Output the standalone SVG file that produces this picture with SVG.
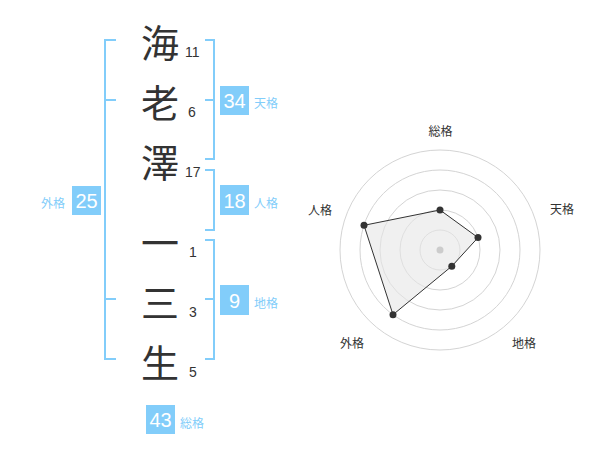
<svg xmlns="http://www.w3.org/2000/svg" width="600" height="470" viewBox="0 0 600 470">
<style>
.ch{font-family:"Noto Sans CJK JP","Noto Sans",sans-serif;font-size:38px;fill:#333;text-anchor:middle;dominant-baseline:central}
.num{font-family:"Liberation Sans",Arial,sans-serif;font-size:14px;fill:#333}
.br{fill:none;stroke:#82cdfa;stroke-width:2}
.box{fill:#82cdfa}
.bn{font-family:"Liberation Sans",Arial,sans-serif;font-size:20px;fill:#fff;text-anchor:middle;dominant-baseline:central}
.lb{font-family:"Noto Sans CJK JP",sans-serif;font-size:12px;fill:#82cdfa;dominant-baseline:central}
.rl{font-family:"Noto Sans CJK JP",sans-serif;font-size:12px;fill:#333;text-anchor:middle;dominant-baseline:central}
.ring{fill:none;stroke:#d4d4d4;stroke-width:1}
.pt{fill:#333}
</style>
<rect width="600" height="470" fill="#fff"/>
<g id="chars">
<text class="ch" x="160" y="40">海</text>
<text class="ch" x="160" y="100">老</text>
<text class="ch" x="160" y="160">澤</text>
<text class="ch" x="160" y="240">一</text>
<text class="ch" x="160" y="300">三</text>
<text class="ch" x="160" y="360">生</text>
<text class="num" x="185" y="57">11</text>
<text class="num" x="188" y="117">6</text>
<text class="num" x="185" y="177">17</text>
<text class="num" x="189" y="257">1</text>
<text class="num" x="189" y="317">3</text>
<text class="num" x="189" y="377">5</text>
</g>
<g id="connectors">
<path class="br" d="M116,40 H105 V359 H116 M105,100 H116 M105,299 H116"/>
<path class="br" d="M205,40 H214 V159 H205 M214,100 H205"/>
<path class="br" d="M205,170 H214 V230 H205"/>
<path class="br" d="M205,240 H214 V359 H205 M214,299 H205"/>
</g>
<g id="tenkaku">
<rect class="box" x="220" y="86" width="29" height="29"/>
<text class="bn" x="234.5" y="101">34</text>
<text class="lb" x="254" y="102">天格</text>
</g>
<g id="jinkaku">
<rect class="box" x="220" y="185" width="29" height="30"/>
<text class="bn" x="234.5" y="200.5">18</text>
<text class="lb" x="254" y="202">人格</text>
</g>
<g id="chikaku">
<rect class="box" x="220" y="285" width="29" height="30"/>
<text class="bn" x="234.5" y="300.5">9</text>
<text class="lb" x="254" y="302">地格</text>
</g>
<g id="gaikaku">
<rect class="box" x="72" y="186" width="29" height="29"/>
<text class="bn" x="86.5" y="201">25</text>
<text class="lb" x="41" y="202">外格</text>
</g>
<g id="soukaku">
<rect class="box" x="146" y="405" width="29" height="29"/>
<text class="bn" x="160.5" y="420">43</text>
<text class="lb" x="180" y="422">総格</text>
</g>
<g id="radar">
<circle class="ring" cx="440" cy="250" r="20"/>
<circle class="ring" cx="440" cy="250" r="40"/>
<circle class="ring" cx="440" cy="250" r="60"/>
<circle class="ring" cx="440" cy="250" r="80"/>
<circle class="ring" cx="440" cy="250" r="100"/>
<polygon points="440,210 478,237.6 451.8,266.2 393,314.7 364,225.3" fill="#e6e6e6" fill-opacity="0.6" stroke="#333" stroke-width="1"/>
<circle cx="440" cy="250" r="3.5" fill="#ccc"/>
<circle class="pt" cx="440" cy="210" r="3.5"/>
<circle class="pt" cx="478" cy="237.6" r="3.5"/>
<circle class="pt" cx="451.8" cy="266.2" r="3.5"/>
<circle class="pt" cx="393" cy="314.7" r="3.5"/>
<circle class="pt" cx="364" cy="225.3" r="3.5"/>
<text class="rl" x="440.5" y="130">総格</text>
<text class="rl" x="562" y="208">天格</text>
<text class="rl" x="320" y="209">人格</text>
<text class="rl" x="352" y="342">外格</text>
<text class="rl" x="524" y="342">地格</text>
</g>
</svg>
